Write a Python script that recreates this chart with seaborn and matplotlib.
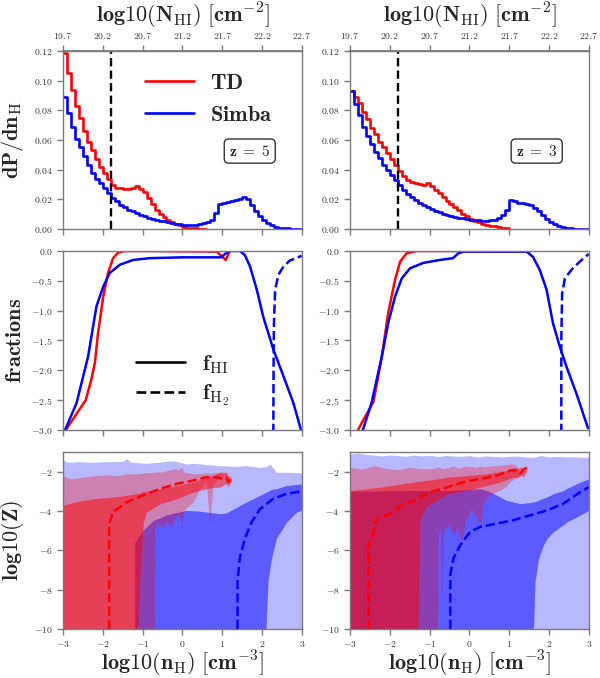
import numpy as np
import pandas as pd
import matplotlib
matplotlib.use("Agg")
import matplotlib.pyplot as plt
from matplotlib.lines import Line2D
from matplotlib.ticker import FixedLocator, FuncFormatter
import seaborn as sns

# ---------------------------------------------------------------- data
# histograms of log10(n_H): bins of 0.1 dex starting at -3
nh_start = -3.0
nh_binwidth = 0.1

td_z5 = [0.119, 0.105, 0.094, 0.083, 0.075, 0.066, 0.059, 0.053, 0.047, 0.042,
         0.038, 0.034, 0.030, 0.028, 0.028, 0.027, 0.027, 0.028, 0.029, 0.027,
         0.025, 0.021, 0.017, 0.013, 0.010, 0.008, 0.006, 0.005, 0.0035, 0.0025,
         0.0015, 0.001, 0.0007, 0.0005, 0.0003, 0.0002]
simba_z5 = [0.089, 0.078, 0.069, 0.061, 0.055, 0.049, 0.043, 0.038, 0.034, 0.031,
            0.028, 0.024, 0.021, 0.019, 0.0164, 0.015, 0.013, 0.012, 0.0106, 0.0097,
            0.0085, 0.0076, 0.007, 0.0063, 0.0056, 0.0052, 0.0045, 0.004, 0.0036, 0.0034,
            0.003, 0.003, 0.003, 0.003, 0.0032, 0.0038, 0.0045, 0.006, 0.011, 0.017,
            0.0175, 0.018, 0.0186, 0.0195, 0.0205, 0.0213, 0.020, 0.0165, 0.012, 0.0085,
            0.0063, 0.004, 0.0025, 0.0015, 0.001, 0.0007, 0.0005, 0.0003, 0.0002, 0.0001]
td_z3 = [0.093, 0.089, 0.085, 0.079, 0.074, 0.068, 0.064, 0.059, 0.055, 0.051,
         0.047, 0.043, 0.039, 0.0355, 0.033, 0.0317, 0.031, 0.0306, 0.030, 0.031,
         0.0288, 0.0265, 0.024, 0.0216, 0.019, 0.017, 0.0148, 0.0126, 0.0103, 0.0085,
         0.007, 0.0056, 0.0045, 0.0036, 0.003, 0.0022, 0.0018, 0.0013, 0.0009, 0.0007]
simba_z3 = [0.093, 0.084, 0.077, 0.069, 0.0625, 0.057, 0.052, 0.048, 0.043, 0.040,
            0.0366, 0.033, 0.030, 0.0265, 0.0238, 0.0216, 0.0193, 0.0175, 0.016, 0.0146,
            0.0133, 0.012, 0.0112, 0.0103, 0.0097, 0.009, 0.0083, 0.0076, 0.0072, 0.0067,
            0.0063, 0.006, 0.0058, 0.0056, 0.0056, 0.0058, 0.0063, 0.0074, 0.0097, 0.013,
            0.0195, 0.019, 0.0175, 0.0175, 0.017, 0.0165, 0.014, 0.012, 0.0095, 0.007,
            0.005, 0.0035, 0.0022, 0.0013, 0.0008, 0.0005, 0.0003, 0.0002, 0.0001, 0.0001]

# DLA threshold N_HI = 10^20.3 expressed in log10(n_H)
dla_nh = -1.8
nhi_ticks = [19.7, 20.2, 20.7, 21.2, 21.7, 22.2, 22.7]

# log10 f_HI / f_H2 against log10(n_H)
fhi_td5_x = [-2.98, -2.71, -2.43, -2.29, -2.2, -2.12, -1.99, -1.87, -1.74, -1.62,
             -1.45, -1.0, 0.0, 0.86, 1.09, 1.19]
fhi_td5_y = [-3.05, -2.78, -2.5, -2.16, -1.88, -1.38, -0.77, -0.37, -0.12, -0.03,
             0.0, 0.0, -0.005, -0.01, -0.15, 0.0]
fhi_sb5_x = [-2.98, -2.66, -2.37, -2.16, -1.99, -1.83, -1.57, -1.24, -0.82, 0.02,
             0.98, 1.07, 1.19, 1.45, 1.57, 1.7, 1.87, 2.03, 2.29, 2.54, 2.79, 2.98]
fhi_sb5_y = [-3.05, -2.55, -1.77, -0.93, -0.6, -0.37, -0.23, -0.15, -0.12, -0.106,
             -0.106, -0.05, 0.0, 0.0, -0.07, -0.26, -0.65, -1.1, -1.66, -2.1, -2.55, -3.0]
fh2_sb5_x = [2.285, 2.29, 2.3, 2.33, 2.41, 2.54, 2.7, 3.0]
fh2_sb5_y = [-3.05, -2.0, -1.21, -0.65, -0.4, -0.26, -0.16, -0.08]

fhi_td3_x = [-2.84, -2.62, -2.41, -2.2, -2.04, -1.87, -1.74, -1.58, -1.33, 0.0, 1.44, 1.52]
fhi_td3_y = [-3.05, -2.78, -2.53, -1.77, -1.04, -0.49, -0.18, -0.04, 0.0, 0.0, -0.01, -0.05]
fhi_sb3_x = [-2.7, -2.46, -2.2, -2.04, -1.87, -1.7, -1.49, -1.16, -0.74, -0.41,
             -0.28, -0.15, 1.44, 1.6, 1.77, 1.94, 2.1, 2.27, 2.44, 2.69, 2.98]
fhi_sb3_y = [-3.05, -2.55, -1.77, -1.21, -0.77, -0.46, -0.29, -0.2, -0.15, -0.12,
             -0.04, -0.01, -0.01, -0.1, -0.32, -0.65, -1.21, -1.6, -1.94, -2.39, -2.97]
fh2_sb3_x = [2.31, 2.31, 2.33, 2.4, 2.56, 2.77, 3.0]
fh2_sb3_y = [-3.05, -1.5, -0.71, -0.46, -0.32, -0.18, -0.05]

# metallicity percentile bands (log10 Z) against log10(n_H)
z_floor = -10

# z = 5, Simba
sb5_out_x = [-3.0, -2.9, -2.6, -2.3, -1.9, -1.5, -1.4, -1.3, -0.9, -0.6, -0.23, 0.1,
             0.27, 0.6, 0.94, 1.3, 1.6, 1.95, 2.1, 2.2, 2.36, 2.7, 3.0]
sb5_out_hi = [-1.39, -1.52, -1.49, -1.52, -1.49, -1.48, -1.32, -1.52, -1.57, -1.52, -1.44, -1.61,
              -1.57, -1.64, -1.69, -1.73, -1.69, -1.78, -1.75, -1.61, -2.03, -2.03, -2.06]
sb5_in_x = [-1.2, -1.0, -0.9, -0.73, -0.5, -0.4, -0.2, 0.1, 0.4, 0.6, 0.94, 1.1,
            1.28, 1.6, 1.95, 2.1, 2.15, 2.24, 2.36, 2.62, 2.87, 3.0]
sb5_in_hi = [-5.6, -5.0, -4.8, -4.47, -4.3, -4.2, -4.1, -3.97, -4.0, -4.05, -4.14, -4.1,
             -3.9, -3.55, -3.2, -3.05, -3.0, -2.9, -2.87, -2.7, -2.65, -2.62]
sb5_in_lo = [-10, -10, -10, -10, -10, -10, -10, -10, -10, -10, -10, -10,
             -10, -10, -10, -10, -7.6, -6.4, -5.4, -4.56, -4.05, -3.97]
# z = 5, TD
td5_out_x = [-3.0, -2.8, -2.5, -2.2, -1.9, -1.6, -1.4, -1.1, -0.9, -0.7,
             -0.69, -0.6, -0.5, -0.4, -0.3, -0.2, -0.1, -0.02, 0.06, 0.27,
             0.44, 0.6, 0.69, 0.77, 0.94, 1.02, 1.1]
td5_out_hi = [-2.2, -2.37, -2.28, -2.2, -2.16, -2.2, -2.11, -2.1, -2.05, -2.03,
              -2.03, -2.0, -2.03, -1.95, -1.9, -1.86, -1.9, -1.78, -2.03, -2.1,
              -2.11, -2.06, -2.1, -2.06, -2.03, -1.99, -2.1]
td5_out_lo = [-10, -10, -10, -10, -10, -10, -10, -10, -10, -10,
              -4.9, -4.6, -4.9, -4.5, -4.8, -4.4, -4.1, -4.64, -3.9, -3.55,
              -2.87, -2.53, -4.64, -2.7, -2.2, -2.2, -2.1]
td5_in_x = [-3.0, -2.6, -2.24, -1.8, -1.4, -1.12, -1.08, -1.03, -0.98, -0.9,
            -0.56, -0.15, 0.27, 0.6, 0.77, 0.94, 1.02, 1.1, 1.15, 1.23]
td5_in_hi = [-3.71, -3.5, -3.38, -3.3, -3.2, -3.1, -3.1, -3.05, -3.0, -3.0,
             -2.87, -2.7, -2.53, -2.3, -2.2, -2.03, -2.1, -2.0, -2.2, -2.3]
td5_in_lo = [-10, -10, -10, -10, -10, -10, -7.9, -5.9, -4.56, -4.05,
             -3.63, -3.38, -3.04, -2.87, -2.8, -2.79, -2.7, -2.6, -2.75, -2.5]
td5_med_x = [-1.84, -1.84, -1.74, -1.4, -0.98, -0.56, -0.15, 0.27, 0.6, 0.86, 1.02, 1.1, 1.15, 1.2]
td5_med_y = [-10, -4.64, -4.05, -3.55, -3.2, -2.87, -2.62, -2.45, -2.28, -2.28, -2.37, -2.28, -2.53, -2.4]
sb5_med_x = [1.385, 1.385, 1.44, 1.57, 1.74, 1.95, 2.28, 2.62, 2.87, 3.0]
sb5_med_y = [-10, -7.6, -6.4, -5.4, -4.56, -3.9, -3.38, -3.12, -3.04, -2.98]

# z = 3, Simba
sb3_out_x = [-3.0, -2.8, -2.6, -2.4, -2.2, -2.0, -1.8, -1.6, -1.4, -1.2,
             -1.0, -0.8, -0.6, -0.4, -0.2, 0.0, 0.2, 0.4, 0.6, 0.8,
             1.0, 1.2, 1.4, 1.6, 1.8, 2.0, 2.2, 2.4, 2.6, 2.8, 3.0]
sb3_out_hi = [-1.1, -1.05, -1.12, -1.15, -1.2, -1.15, -1.18, -1.22, -1.15, -1.2,
              -1.17, -1.23, -1.18, -1.2, -1.22, -1.18, -1.25, -1.2, -1.22, -1.25,
              -1.22, -1.2, -1.25, -1.27, -1.18, -1.25, -1.22, -1.25, -1.24, -1.26, -1.27]
sb3_in_x = [-3.0, -2.0, -1.3, -0.56, 0.27, 0.5, 0.69, 0.94, 1.28, 1.55,
            1.61, 1.65, 1.74, 1.86, 1.95, 2.11, 2.36, 2.45, 2.78, 3.0]
sb3_in_hi = [-3.0, -2.97, -2.96, -2.96, -2.87, -3.0, -3.2, -3.46, -3.63, -3.56,
             -3.55, -3.52, -3.45, -3.35, -3.29, -3.12, -2.96, -2.85, -2.53, -2.37]
sb3_in_lo = [-10, -10, -10, -10, -10, -10, -10, -10, -10, -10,
             -10, -7.6, -6.4, -5.74, -5.4, -5.06, -4.7, -4.56, -4.22, -3.97]
# z = 3, TD
td3_out_x = [-3.0, -2.7, -2.4, -2.1, -1.8, -1.5, -1.2, -0.9, -0.8, -0.78,
             -0.72, -0.69, -0.66, -0.5, -0.4, -0.3, -0.19, -0.1, 0.06, 0.2,
             0.27, 0.35, 0.5, 0.7, 0.9, 1.03, 1.1, 1.19, 1.28]
td3_out_hi = [-1.78, -1.86, -1.7, -1.83, -1.9, -1.78, -1.86, -1.83, -1.78, -1.75,
              -1.83, -1.78, -1.86, -1.78, -1.7, -1.83, -1.78, -1.7, -1.75, -1.78,
              -1.7, -1.75, -1.72, -1.68, -1.65, -1.6, -1.62, -1.69, -2.1]
td3_out_lo = [-10, -10, -10, -10, -10, -10, -10, -10, -10, -5.2,
              -4.8, -8.7, -5.0, -4.7, -5.2, -4.9, -5.57, -4.5, -3.9, -4.4,
              -4.73, -3.6, -3.2, -3.0, -2.8, -2.5, -2.4, -2.3, -2.1]
td3_in_x = [-3.0, -2.24, -1.4, -1.3, -1.28, -1.25, -1.1, -0.9, -0.56, 0.1,
            0.44, 0.77, 0.94, 1.1, 1.2, 1.3, 1.36, 1.44]
td3_in_hi = [-2.96, -2.79, -2.53, -2.5, -2.5, -2.49, -2.45, -2.4, -2.28, -2.17,
             -2.11, -2.0, -1.94, -1.78, -1.85, -1.75, -1.8, -1.69]
td3_in_lo = [-10, -10, -10, -10, -10, -4.5, -3.8, -3.55, -3.15, -2.87,
             -2.7, -2.53, -2.4, -2.28, -2.3, -2.2, -2.25, -2.0]
td3_med_x = [-2.53, -2.53, -2.45, -2.32, -1.99, -1.82, -1.4, -0.98, -0.56, -0.15,
             0.27, 0.69, 1.03, 1.19, 1.28, 1.36, 1.44]
td3_med_y = [-10, -5.74, -5.4, -4.39, -4.14, -3.88, -3.46, -3.04, -2.79, -2.53,
             -2.37, -2.2, -1.94, -1.94, -2.1, -1.9, -1.78]
sb3_med_x = [-0.48, -0.48, -0.4, -0.23, 0.02, 0.27, 0.69, 1.1, 1.53, 1.95, 2.36, 2.78, 3.0]
sb3_med_y = [-10, -7.26, -6.4, -5.74, -5.06, -4.81, -4.64, -4.47, -4.22, -3.97, -3.63, -3.04, -2.79]

# ---------------------------------------------------------------- style
sns.set_theme(style="ticks")
plt.rcParams["mathtext.fontset"] = "cm"
plt.rcParams["font.family"] = ["DejaVu Serif"]

RED = "#ff0000"
BLUE = "#0000ff"
SPINE = "#7a7a7a"
TICKLBL = "#333333"
LABEL_FS = 16

fig = plt.figure(figsize=(6.0, 6.78), dpi=100)

col_x = [0.105, 0.5833]
col_w = 0.398
row_y = [0.6622, 0.3658, 0.0723]
row_h = [0.2625, 0.264, 0.261]
axes = [[fig.add_axes([col_x[c], row_y[r], col_w, row_h[r]]) for c in range(2)] for r in range(3)]


def math_fmt(dec):
    return FuncFormatter(lambda v, p: f"${v:.{dec}f}$")


def style(ax, yticks, ydec, show_x):
    ax.set_xlim(-3, 3)
    for s in ax.spines.values():
        s.set_color(SPINE)
        s.set_linewidth(1.0)
    ax.tick_params(colors=SPINE, labelcolor=TICKLBL, labelsize=7, length=4,
                   width=1.0, direction="out")
    ax.xaxis.set_major_locator(FixedLocator([-3, -2, -1, 0, 1, 2, 3]))
    ax.xaxis.set_major_formatter(math_fmt(0))
    ax.yaxis.set_major_locator(FixedLocator(yticks))
    ax.yaxis.set_major_formatter(math_fmt(ydec))
    if not show_x:
        ax.tick_params(axis="x", labelbottom=False)
    ax.set_xlabel("")
    ax.set_ylabel("")


def nh_to_nhi(n):
    return 19.7 + (np.asarray(n) + 3.0) * 0.5


def nhi_to_nh(N):
    return (np.asarray(N) - 19.7) * 2.0 - 3.0


def step_hist(ax, values, color):
    """Weighted step histogram of pre-binned values on 0.1 dex bins."""
    n = len(values)
    lo = nh_start
    hi = nh_start + n * nh_binwidth
    centers = lo + nh_binwidth * (np.arange(n) + 0.5)
    frame = pd.DataFrame({"nh": centers, "w": values})
    sns.histplot(data=frame, x="nh", weights="w", bins=n, binrange=(lo, hi),
                 element="step", fill=False, color=color, linewidth=1.9, ax=ax)


# ---------------------------------------------------------------- top row: dP/dn_H
for ax, td, sb, zlab in [(axes[0][0], td_z5, simba_z5, "5"), (axes[0][1], td_z3, simba_z3, "3")]:
    step_hist(ax, td, RED)
    step_hist(ax, sb, BLUE)
    ax.axvline(dla_nh, color="black", ls="--", lw=1.7, dashes=(3.5, 1.8))
    ax.set_ylim(0, 0.12)
    style(ax, [0, 0.02, 0.04, 0.06, 0.08, 0.10, 0.12], 2, False)
    sec = ax.secondary_xaxis("top", functions=(nh_to_nhi, nhi_to_nh))
    sec.xaxis.set_major_locator(FixedLocator(nhi_ticks))
    sec.xaxis.set_major_formatter(math_fmt(1))
    sec.tick_params(colors=SPINE, labelcolor=TICKLBL, labelsize=7, length=4, width=1.0)
    sec.spines["top"].set_color(SPINE)
    sec.set_xlabel(r"$\mathbf{log10}(\mathbf{N}_{\rm HI})\ [\mathbf{cm}^{-2}]$",
                   fontsize=LABEL_FS, labelpad=6)
    ax.text(0.782, 0.438, r"$\mathbf{z}\ \mathbf{=}\ \mathbf{%s}$" % zlab,
            transform=ax.transAxes, ha="center", va="center", fontsize=11,
            bbox=dict(boxstyle="round,pad=0.3", fc="white", ec="#333333", lw=1.0))

axes[0][0].set_ylabel(r"$\mathbf{dP/dn}_{\rm H}$", fontsize=LABEL_FS)
axes[0][0].legend(
    handles=[Line2D([], [], color=RED, lw=1.9), Line2D([], [], color=BLUE, lw=1.9)],
    labels=[r"$\mathbf{TD}$", r"$\mathbf{Simba}$"], loc="center left",
    bbox_to_anchor=(0.305, 0.733), frameon=False, fontsize=LABEL_FS,
    handlelength=2.2, handletextpad=0.75, labelspacing=0.45, borderaxespad=0)

# ---------------------------------------------------------------- middle row: fractions
panels = [
    (axes[1][0], fhi_td5_x, fhi_td5_y, fhi_sb5_x, fhi_sb5_y, fh2_sb5_x, fh2_sb5_y),
    (axes[1][1], fhi_td3_x, fhi_td3_y, fhi_sb3_x, fhi_sb3_y, fh2_sb3_x, fh2_sb3_y),
]
for ax, tx, ty, bx, by, hx, hy in panels:
    sns.lineplot(x=tx, y=ty, sort=False, estimator=None, color=RED, lw=1.8, ax=ax)
    sns.lineplot(x=bx, y=by, sort=False, estimator=None, color=BLUE, lw=1.8, ax=ax)
    sns.lineplot(x=hx, y=hy, sort=False, estimator=None, color=BLUE, lw=1.8,
                 ls="--", ax=ax)
    ax.set_ylim(-3, 0)
    style(ax, [0, -0.5, -1.0, -1.5, -2.0, -2.5, -3.0], 1, False)

axes[1][0].set_ylabel(r"$\mathbf{fractions}$", fontsize=LABEL_FS)
axes[1][0].legend(
    handles=[Line2D([], [], color="black", lw=1.9), Line2D([], [], color="black", lw=1.9, ls="--")],
    labels=[r"$\mathbf{f}_{\rm HI}$", r"$\mathbf{f}_{\rm H_2}$"], loc="center left",
    bbox_to_anchor=(0.27, 0.275), frameon=False, fontsize=LABEL_FS,
    handlelength=2.2, handletextpad=0.75, labelspacing=0.32, borderaxespad=0)

# ---------------------------------------------------------------- bottom row: metallicity
bands = [
    (axes[2][0], (sb5_out_x, sb5_out_hi), (sb5_in_x, sb5_in_lo, sb5_in_hi),
     (td5_out_x, td5_out_lo, td5_out_hi), (td5_in_x, td5_in_lo, td5_in_hi),
     (td5_med_x, td5_med_y), (sb5_med_x, sb5_med_y)),
    (axes[2][1], (sb3_out_x, sb3_out_hi), (sb3_in_x, sb3_in_lo, sb3_in_hi),
     (td3_out_x, td3_out_lo, td3_out_hi), (td3_in_x, td3_in_lo, td3_in_hi),
     (td3_med_x, td3_med_y), (sb3_med_x, sb3_med_y)),
]
for ax, sbo, sbi, tdo, tdi, tdm, sbm in bands:
    ax.fill_between(sbo[0], z_floor, sbo[1], color=BLUE, alpha=0.28, lw=0)
    ax.fill_between(sbi[0], sbi[1], sbi[2], color=BLUE, alpha=0.5, lw=0)
    ax.fill_between(tdo[0], tdo[1], tdo[2], color=RED, alpha=0.3, lw=0)
    ax.fill_between(tdi[0], tdi[1], tdi[2], color=RED, alpha=0.5, lw=0)
    sns.lineplot(x=tdm[0], y=tdm[1], sort=False, estimator=None, color=RED, lw=1.8,
                 ls="--", ax=ax)
    sns.lineplot(x=sbm[0], y=sbm[1], sort=False, estimator=None, color=BLUE, lw=1.8,
                 ls="--", ax=ax)
    ax.set_ylim(-10, -1)
    style(ax, [-2, -4, -6, -8, -10], 0, True)
    ax.set_xlabel(r"$\mathbf{log10}(\mathbf{n}_{\rm H})\ [\mathbf{cm}^{-3}]$",
                  fontsize=LABEL_FS, labelpad=0)

axes[2][0].set_ylabel(r"$\mathbf{log10}(\mathbf{Z})$", fontsize=LABEL_FS)

# left-hand y labels share one horizontal position
for r in range(3):
    axes[r][0].yaxis.set_label_coords(-0.155, 0.5)

fig.savefig("out.png", dpi=100)
